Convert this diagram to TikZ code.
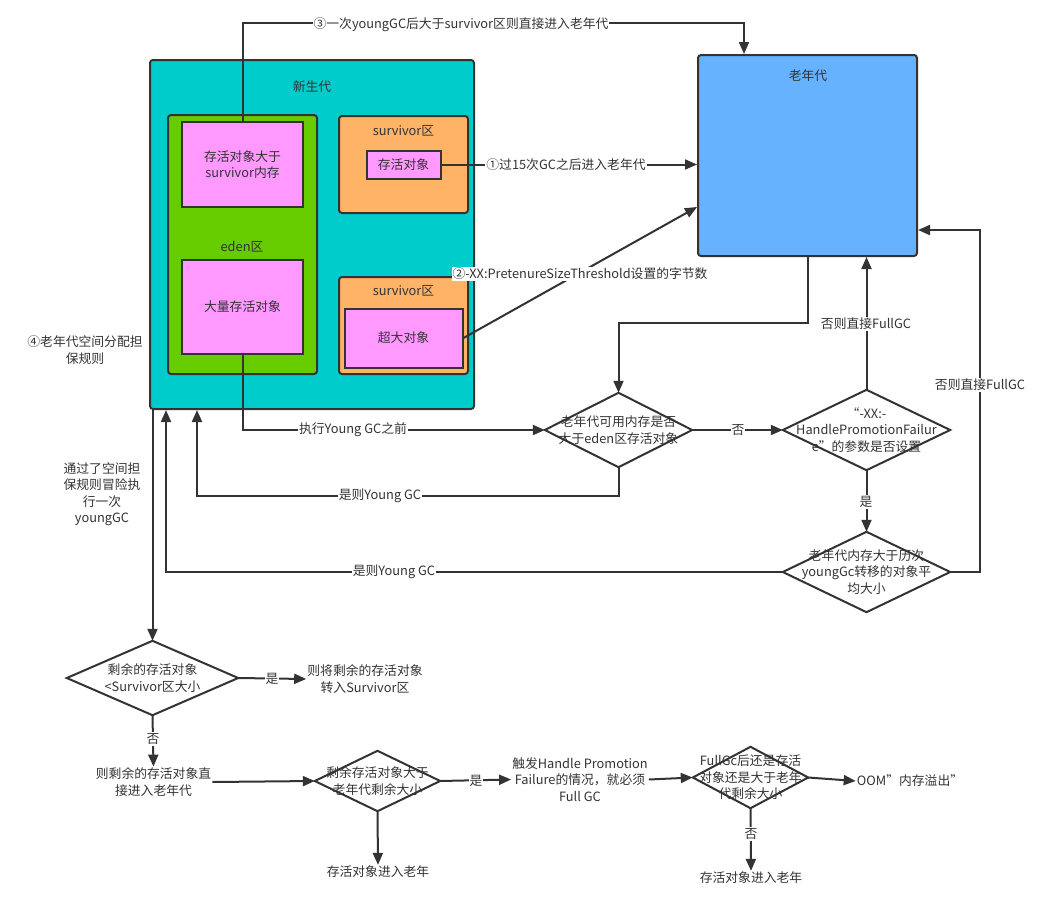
\documentclass[tikz,border=0pt]{standalone}
\usepackage{fontspec}
\setmainfont{Noto Sans CJK SC}
\usetikzlibrary{arrows.meta,calc}
\definecolor{lc}{HTML}{333333}
\definecolor{tc}{HTML}{333333}
\definecolor{tealc}{HTML}{00CCCC}
\definecolor{greenc}{HTML}{66CC00}
\definecolor{pinkc}{HTML}{FF99FF}
\definecolor{orangec}{HTML}{FFB366}
\definecolor{bluec}{HTML}{66B2FF}
\tikzset{
  every node/.style={font=\fontsize{12.8}{16.5}\selectfont, text=tc},
  box/.style={draw=lc, line width=2pt, rounded corners=3pt, inner sep=0pt},
  pinkbox/.style={draw=lc, line width=2pt, fill=pinkc, align=center, inner sep=0pt},
  dia/.style={inner sep=0pt, align=center},
  diaborder/.style={draw=lc, line width=2pt},
  conn/.style={draw=lc, line width=2pt, -{Triangle[length=12pt,width=10pt]}},
  lbl/.style={fill=white, inner sep=1pt},
  txt/.style={align=center, inner sep=1pt},
}
\begin{document}
\begin{tikzpicture}[x=1pt,y=-1pt]
\useasboundingbox (0,0) rectangle (1047,921);
% boxes
\node[box, fill=tealc, minimum width=324pt, minimum height=349pt] (ng) at (312,234.5) {};
\node (nglbl) at (312,87) {新生代};
\node[box, fill=greenc, minimum width=149pt, minimum height=259pt] (eden) at (242.5,244.5) {};
\node (edenlbl) at (242,247) {eden区};
\node[pinkbox, minimum width=121pt, minimum height=85pt] (p1) at (242.5,164.5) {存活对象大于\\survivor内存};
\node[pinkbox, minimum width=121pt, minimum height=94pt] (p2) at (242.5,307) {大量存活对象};
\node[box, fill=orangec, minimum width=129pt, minimum height=97pt] (s1) at (403.5,164.5) {};
\node (s1lbl) at (403.5,131) {survivor区};
\node[pinkbox, minimum width=74pt, minimum height=28pt] (s1in) at (403.5,164.5) {存活对象};
\node[box, fill=orangec, minimum width=129pt, minimum height=97pt] (s2) at (403.5,325.5) {};
\node (s2lbl) at (403.5,291) {survivor区};
\node[pinkbox, minimum width=118pt, minimum height=59pt] (s2in) at (403.5,338) {超大对象};
\node[box, fill=bluec, minimum width=219pt, minimum height=201pt] (og) at (807.5,155.5) {};
\node (oglbl) at (808,76) {老年代};
% diamonds
\node[dia, minimum width=147pt, minimum height=74pt] (d1) at (618.5,430) {};
\node[dia, minimum width=167pt, minimum height=80pt] (d2) at (866.5,430) {};
\node[dia, minimum width=167pt, minimum height=80pt] (d3) at (866.5,572) {};
\node[dia, minimum width=171pt, minimum height=74pt] (d4) at (152.5,678) {};
\node[dia, minimum width=125pt, minimum height=60pt] (d5) at (377.5,781) {};
\node[dia, minimum width=115pt, minimum height=61pt] (d6) at (750.5,777.5) {};
\foreach \d in {d1,d2,d3,d4,d5,d6}
  \draw[diaborder] (\d.north) -- (\d.east) -- (\d.south) -- (\d.west) -- cycle;
% free texts
\node[txt] (t1) at (365,679) {则将剩余的存活对象\\转入Survivor区};
\node[txt] (t2) at (153.5,782) {则剩余的存活对象直\\接进入老年代};
\node[txt] (t3) at (378,872) {存活对象进入老年};
\node[txt] (t4) at (580,779.5) {触发Handle Promotion\\Failure的情况，就必须\\Full GC};
\node[txt] (t5) at (910,781) {OOM”内存溢出”};
\node[txt] (t6) at (751,878) {存活对象进入老年};
\node[txt] (n4) at (85,350) {④老年代空间分配担\\保规则};
\node[txt] (nvia) at (102,494) {通过了空间担\\保规则冒险执\\行一次\\youngGC};
% connectors
\draw[conn] (p1.north) -- ++(0,-98) -| ($(og.north west)+(47,0)$);
\draw[conn] (s1in.east) -- (og.west |- s1in.east);
\draw[conn] (s2in.east) -- ($(og.north west)+(0,153)$);
\draw[conn] (p2.south) |- (d1.west);
\draw[conn] (og.south) -- ++(0,66) -| (d1.north);
\draw[conn] (d1.south) -- ++(0,29) -| ($(ng.south west)+(48,0)$);
\draw[conn] (d1.east) -- (d2.west);
\draw[conn] (d2.north) -- (d2.north |- og.south);
\draw[conn] (d2.south) -- (d3.north);
\draw[conn] (d3.east) -- ++(30,0) |- ($(og.south east)+(0,-27)$);
\draw[conn] (d3.west) -| ($(ng.south west)+(17,0)$);
\draw[conn] (d4.north |- ng.south) -- (d4.north);
\draw[conn] (d4.east) -- (t1.west);
\draw[conn] (d4.south) -- (t2.north);
\draw[conn] (t2.east) -- (d5.west);
\draw[conn] (d5.south) -- (t3.north);
\draw[conn] (d5.east) -- (t4.west);
\draw[conn] (t4.east) -- (d6.west);
\draw[conn] (d6.east) -- (t5.west);
\draw[conn] (d6.south) -- (t6.north);
% diamond texts
\node[align=center, inner sep=0pt] (d1t) at (d1) {老年代可用内存是否\\大于eden区存活对象};
\node[align=center, inner sep=0pt] (d2t) at (d2) {“-XX:-\\HandlePromotionFailur\\e”的参数是否设置};
\node[align=center, inner sep=0pt] (d3t) at (d3) {老年代内存大于历次\\youngGc转移的对象平\\均大小};
\node[align=center, inner sep=0pt] (d4t) at (d4) {剩余的存活对象\\<Survivor区大小};
\node[align=center, inner sep=0pt] (d5t) at (d5) {剩余存活对象大于\\老年代剩余大小};
\node[align=center, inner sep=0pt] (d6t) at (d6) {FullGc后还是存活\\对象还是大于老年\\代剩余大小};
% connector labels
\node[lbl] (l3) at (461,25) {③一次youngGC后大于survivor区则直接进入老年代};
\node[lbl] (l1) at (566,165) {①过15次GC之后进入老年代};
\node[lbl] (l2) at (580,274) {②-XX:PretenureSizeThreshold设置的字节数};
\node[lbl] (lexec) at (353,430) {执行Young GC之前};
\node[lbl] (lyes1) at (380,496) {是则Young GC};
\node[lbl] (lno1) at (738,430) {否};
\node[lbl] (lfull1) at (866,324) {否则直接FullGC};
\node[lbl] (lfull2) at (980,385) {否则直接FullGC};
\node[lbl] (lyes2) at (866,502) {是};
\node[lbl] (lyes3) at (394,572) {是则Young GC};
\node[lbl] (lyes4) at (272,679) {是};
\node[lbl] (lno2) at (153,739) {否};
\node[lbl] (lyes5) at (476,781) {是};
\node[lbl] (lno3) at (751,834) {否};
\end{tikzpicture}
\end{document}
